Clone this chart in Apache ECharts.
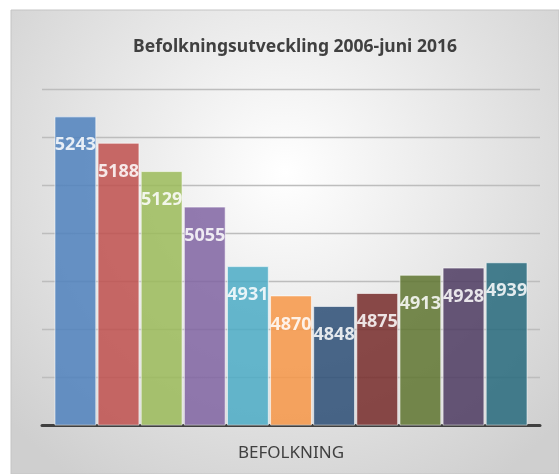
<!DOCTYPE html>
<html>
<head>
<meta charset="utf-8">
<script src="https://cdn.jsdelivr.net/npm/echarts@6/dist/echarts.min.js"></script>
<style>
html,body{margin:0;padding:0;background:#fff;}
#chart{width:559px;height:474px;}
</style>
</head>
<body>
<div id="chart"></div>
<script>
const categories = ['BEFOLKNING'];
const seriesNames = ['2006','2007','2008','2009','2010','2011','2012','2013','2014','2015','juni 2016'];
const values = [5243, 5188, 5129, 5055, 4931, 4870, 4848, 4875, 4913, 4928, 4939];
const colors = ['#4F81BD','#C0504D','#9BBB59','#8064A2','#4BACC6','#F79646','#2C4D75','#772C2A','#5F7530','#4D3B62','#276A7C'];

const chart = echarts.init(document.getElementById('chart'));
const series = values.map((v, i) => ({
  name: seriesNames[i],
  type: 'bar',
  data: [v],
  barGap: '3%',
  barCategoryGap: '5%',
  itemStyle: { color: colors[i], opacity: 0.85, borderColor: 'rgba(255,255,255,0.7)', borderWidth: 1 },
  label: {
    show: true, position: 'insideTop', distance: 20,
    color: '#fff', fontFamily: 'Noto Sans', fontWeight: 'bold', fontSize: 18
  }
}));
chart.setOption({
  animation: false,
  graphic: [{
    type: 'rect', z: -10, silent: true,
    shape: { x: 11, y: 10, width: 548, height: 464 },
    style: {
      fill: { type: 'radial', x: 0.5, y: 0.35, r: 0.8,
        colorStops: [{ offset: 0, color: '#ffffff' }, { offset: 1, color: '#cfcfcf' }] },
      stroke: '#c4c4c4', lineWidth: 1
    }
  }],
  title: {
    text: 'Befolkningsutveckling 2006-juni 2016',
    left: 290, top: 33, textAlign: 'center',
    textStyle: { fontFamily: 'Noto Sans', fontWeight: 'bold', fontSize: 17.5, color: '#404040' }
  },
  grid: { left: 42, right: 19, top: 89, bottom: 49, containLabel: false },
  xAxis: {
    type: 'category', data: categories,
    axisLine: { lineStyle: { color: '#404040', width: 3 } },
    axisTick: { show: false },
    axisLabel: { margin: 20, color: '#404040', fontFamily: 'Noto Sans', fontSize: 17 }
  },
  yAxis: {
    type: 'value', min: 4600, max: 5300, interval: 100,
    axisLabel: { show: false }, axisLine: { show: false }, axisTick: { show: false },
    splitLine: { lineStyle: { color: '#bdbdbd', width: 1.3 } }
  },
  series: series
});
</script>
</body>
</html>
